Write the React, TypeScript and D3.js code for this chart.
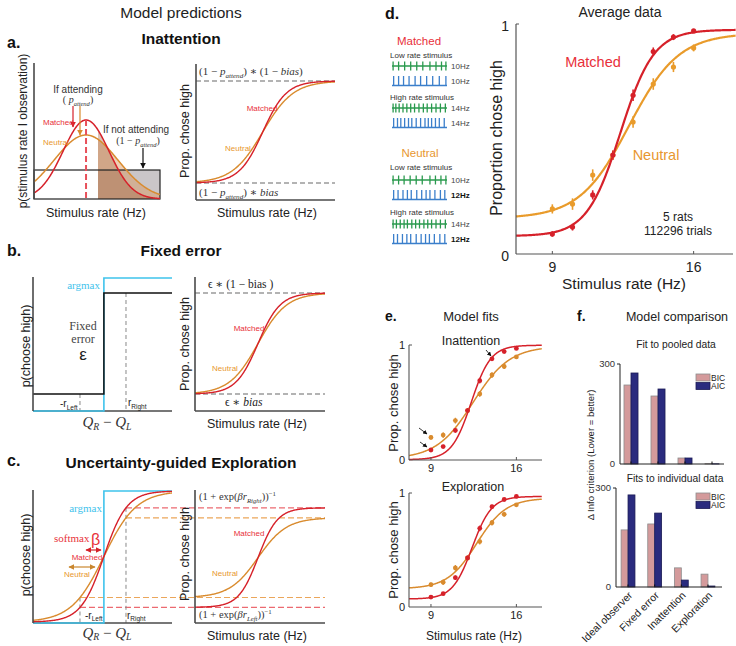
import React from 'react';
import * as d3 from 'd3';

// ---------------- data ----------------
const rates = [9, 10, 11, 12, 13, 14, 15, 16];
const matchedProp = [0.087, 0.117, 0.257, 0.43, 0.69, 0.88, 0.943, 0.97];
const neutralProp = [0.196, 0.217, 0.343, 0.43, 0.574, 0.739, 0.813, 0.896];
const matchedErr = [0.012, 0.015, 0.02, 0.02, 0.025, 0.018, 0.013, 0.008];
const neutralErr = [0.02, 0.025, 0.025, 0.02, 0.025, 0.025, 0.022, 0.015];

const models = ['Ideal observer', 'Fixed error', 'Inattention', 'Exploration'];
const pooledBIC = [237, 204, 18, 1];
const pooledAIC = [273, 225, 18, 0.5];
const indivBIC = [173, 191, 58, 39];
const indivAIC = [279, 224, 21, 3];

// fitted lapse-logistic parameters
const fitAvgMatched = { lo: 0.078, hi: 0.975, mu: 12.37, s: 0.83 };
const fitAvgNeutral = { lo: 0.155, hi: 0.96, mu: 12.8, s: 1.23 };
const fitInattMatched = { lo: 0.003, hi: 0.998, mu: 12.3, s: 0.8 };
const fitInattNeutral = { lo: 0.01, hi: 0.99, mu: 12.45, s: 1.5 };
const fitExplMatched = { lo: 0.07, hi: 0.97, mu: 12.37, s: 0.8 };
const fitExplNeutral = { lo: 0.16, hi: 0.955, mu: 12.75, s: 1.2 };

// schematic model shapes
const schemMatched = { lo: 0, hi: 1, mu: 0.48, s: 0.085 };
const schemNeutral = { lo: 0, hi: 1, mu: 0.48, s: 0.11 };
const gaussMatched = { mu: 0.413, sd: 0.182, h: 1 };
const gaussNeutral = { mu: 0.413, sd: 0.254, h: 0.81 };
const attendThreshold = 0.508;
const uniformLevel = 0.367;
const rLeft = 0.338;
const rRight = 0.669;

// pulse trains (normalized event times)
const greenLow1 = [0.02, 0.12, 0.23, 0.34, 0.45, 0.56, 0.69, 0.8, 0.9, 0.98];
const blueLow1 = [0.03, 0.12, 0.21, 0.31, 0.42, 0.52, 0.63, 0.74, 0.86, 0.98];
const greenHigh1 = [0.02, 0.07, 0.13, 0.2, 0.27, 0.34, 0.41, 0.49, 0.57, 0.64, 0.72, 0.8, 0.88, 0.97];
const blueHigh1 = [0.03, 0.1, 0.16, 0.23, 0.3, 0.36, 0.44, 0.52, 0.6, 0.66, 0.72, 0.79, 0.86, 0.95];
const greenLow2 = [0.02, 0.12, 0.22, 0.33, 0.44, 0.55, 0.69, 0.79, 0.89, 0.98];
const blue12a = [0.03, 0.11, 0.2, 0.28, 0.35, 0.45, 0.54, 0.62, 0.69, 0.78, 0.88, 0.96];
const greenHigh2 = [0.02, 0.08, 0.15, 0.22, 0.28, 0.36, 0.43, 0.5, 0.58, 0.65, 0.72, 0.8, 0.88, 0.97];
const blue12b = [0.03, 0.1, 0.19, 0.27, 0.34, 0.44, 0.53, 0.61, 0.68, 0.77, 0.87, 0.96];

// ---------------- styles ----------------
const RED = '#d6212a';
const RED_T = '#e8303a';
const ORANGE = '#e99b2b';
const ORANGE_M = '#d98b2e';
const ORANGE_T = '#e8972f';
const CYAN = '#3fc3ec';
const AX = '#4a4a4a';
const SANS = '"Liberation Sans", Arial, Helvetica, sans-serif';
const SERIF = '"Liberation Serif", "DejaVu Serif", serif';
const GREEN = '#2a9a4e';
const BLUE = '#3b7fcb';

const logistic = (p: any) => (x: number) => p.lo + (p.hi - p.lo) / (1 + Math.exp(-(x - p.mu) / p.s));
const gauss = (g: any) => (x: number) => g.h * Math.exp(-((x - g.mu) ** 2) / (2 * g.sd * g.sd));
const path = (xs: number[], f: (x: number) => number, sx: any, sy: any) =>
  d3.line()(xs.map((x) => [sx(x), sy(f(x))]) as any) as string;

const unit = d3.range(0, 1.0001, 0.004);
const hz = d3.range(7.2, 18.11, 0.04);

function Rot({ x, y, children, size = 12, fill = '#222', family = SANS }: any) {
  return (
    <text transform={`translate(${x},${y}) rotate(-90)`} textAnchor="middle" fontSize={size} fill={fill} fontFamily={family}>
      {children}
    </text>
  );
}

// math-ish text: runs of [text, flags] where flags contains i (italic), s (sub), p (sup)
function MT({ x, y, size, runs, anchor = 'start', fill = '#333', family = SERIF, subOff = 0.25 }: any) {
  let cur = 0;
  return (
    <text x={x} y={y} fontSize={size} textAnchor={anchor} fill={fill} fontFamily={family}>
      {runs.map((r: any, i: number) => {
        const [t, f = ''] = r;
        const off = f.includes('s') ? size * subOff : f.includes('p') ? -size * 0.4 : 0;
        const dy = off - cur;
        cur = off;
        const small = f.includes('s') || f.includes('p');
        return (
          <tspan key={i} dy={dy} fontSize={small ? size * 0.65 : size} fontStyle={f.includes('i') ? 'italic' : 'normal'}>
            {t}
          </tspan>
        );
      })}
    </text>
  );
}

function PulseRow({ x, y, w, times, kind, label, bold }: any) {
  const sx = d3.scaleLinear().domain([0, 1]).range([x, x + w]);
  return (
    <g>
      {kind === 'green' ? (
        <g stroke={GREEN} strokeWidth={1.3}>
          <line x1={x} x2={x + w} y1={y} y2={y} />
          {times.map((t: number, i: number) => (
            <line key={i} x1={sx(t)} x2={sx(t)} y1={y - 4.5} y2={y + 4.5} />
          ))}
        </g>
      ) : (
        <g stroke={BLUE} strokeWidth={1.3}>
          <line x1={x} x2={x + w} y1={y + 4.5} y2={y + 4.5} />
          {times.map((t: number, i: number) => (
            <line key={i} x1={sx(t)} x2={sx(t)} y1={y + 4.5} y2={y - 5} />
          ))}
        </g>
      )}
      <text x={x + w + 4} y={y + 3} fontSize={8} fontWeight={bold ? 'bold' : 'normal'} fill={bold ? '#111' : '#444'}>
        {label}
      </text>
    </g>
  );
}

export default function App() {
  // ---------- panel a ----------
  const xG = d3.scaleLinear().domain([0, 1]).range([34, 160]);
  const yG = d3.scaleLinear().domain([0, 1]).range([199, 120]);
  const gM = gauss(gaussMatched);
  const gN = gauss(gaussNeutral);
  const tail = unit.filter((u) => u >= attendThreshold);
  const areaFn = (f: any) =>
    d3.area().x((d: any) => xG(d)).y0(yG(0)).y1((d: any) => yG(f(d)))(tail as any) as string;

  const xSa = d3.scaleLinear().domain([0, 1]).range([196, 335]);
  const ySa = d3.scaleLinear().domain([0, 1]).range([183, 81]);
  const sM = logistic(schemMatched);
  const sN = logistic(schemNeutral);

  // ---------- panel b ----------
  const xB = d3.scaleLinear().domain([0, 1]).range([33, 172]);
  const xSb = d3.scaleLinear().domain([0, 1]).range([195, 325]);
  const ySb = d3.scaleLinear().domain([0, 1]).range([394, 293]);
  const sbM = logistic({ ...schemMatched, mu: 0.485 });
  const sbN = logistic({ ...schemNeutral, mu: 0.485 });

  // ---------- panel c ----------
  const xC = d3.scaleLinear().domain([0, 1]).range([33, 172]);
  const yC = d3.scaleLinear().domain([0, 1]).range([622, 491]);
  const cM = logistic({ lo: 0, hi: 1, mu: 0.51, s: 0.083 });
  const cN = logistic({ lo: 0, hi: 1, mu: 0.51, s: 0.117 });
  const xSc = d3.scaleLinear().domain([0, 1]).range([195, 325]);
  const crM = logistic({ lo: cM(rLeft), hi: cM(rRight), mu: 0.485, s: 0.075 });
  const crN = logistic({ lo: cN(rLeft), hi: cN(rRight), mu: 0.485, s: 0.11 });

  // ---------- panel d ----------
  const xD = d3.scaleLinear().domain([7.2, 17.95]).range([516, 733]);
  const yD = d3.scaleLinear().domain([0, 1]).range([254, 24]);

  // ---------- panel e ----------
  const xE = d3.scaleLinear().domain([7.2, 18.1]).range([409, 542]);
  const yE1 = d3.scaleLinear().domain([0, 1]).range([460, 345]);
  const yE2 = d3.scaleLinear().domain([0, 1]).range([607, 493]);

  // ---------- panel f ----------
  const xF1 = d3.scaleBand().domain(models).range([617.5, 725.5]);
  const yF1 = d3.scaleLinear().domain([0, 300]).range([464, 364]);
  const xF2 = d3.scaleBand().domain(models).range([614.7, 721.3]);
  const yF2 = d3.scaleLinear().domain([0, 300]).range([587, 488]);

  const dataPts = (sx: any, sy: any, vals: number[], errs: number[], color: string, r: number, ew: number) => (
    <g>
      {rates.map((x, i) => (
        <g key={i}>
          <line x1={sx(x)} x2={sx(x)} y1={sy(vals[i] - errs[i])} y2={sy(vals[i] + errs[i])} stroke={color} strokeWidth={ew} />
          <circle cx={sx(x)} cy={sy(vals[i])} r={r} fill={color} />
        </g>
      ))}
    </g>
  );

  const bars = (sx: any, sy: any, bic: number[], aic: number[], x0: number, x1: number, ytop: number, legY: number) => {
    const bw = sx.bandwidth() * 0.26;
    return (
      <g>
        {models.map((m, i) => {
          const c = (sx(m) as number) + sx.bandwidth() / 2;
          return (
            <g key={m}>
              <rect x={c - bw} y={sy(bic[i])} width={bw} height={sy(0) - sy(bic[i])} fill="#d49a9b" stroke="#8d8d8d" strokeWidth={0.8} />
              <rect x={c} y={sy(aic[i])} width={bw} height={sy(0) - sy(aic[i])} fill="#2a2b7e" stroke="#1b1b55" strokeWidth={0.8} />
              <line x1={c} x2={c} y1={sy(0)} y2={sy(0) - 2.5} stroke="#111" strokeWidth={1} />
            </g>
          );
        })}
        <line x1={x0} x2={x0} y1={ytop} y2={sy(0)} stroke="#222" strokeWidth={1} />
        <line x1={x0} x2={x1} y1={sy(0)} y2={sy(0)} stroke="#222" strokeWidth={1} />
        <line x1={x0 - 3} x2={x0} y1={sy(300)} y2={sy(300)} stroke="#222" />
        <text x={x0 - 5} y={sy(300) + 3} fontSize={9.5} textAnchor="end" fill="#333">300</text>
        <text x={x0 - 5} y={sy(0) + 3} fontSize={9.5} textAnchor="end" fill="#333">0</text>
        <rect x={696} y={legY} width={14} height={7} fill="#d49a9b" stroke="#8d8d8d" strokeWidth={0.8} />
        <text x={711} y={legY + 6.5} fontSize={8.5} fill="#222">BIC</text>
        <rect x={696} y={legY + 8.5} width={14} height={7} fill="#2a2b7e" stroke="#1b1b55" strokeWidth={0.8} />
        <text x={711} y={legY + 15} fontSize={8.5} fill="#222">AIC</text>
      </g>
    );
  };

  return (
    <div style={{ position: 'absolute', left: 0, top: 0 }}>
      <svg width={736} height={646} style={{ display: 'block' }} fontFamily={SANS}>
        <defs>
          {[['red', RED], ['org', ORANGE_M], ['blk', '#111'], ['rd2', RED], ['or2', '#c9862e']].map(([id, c]) => (
            <marker key={id} id={`ah-${id}`} viewBox="0 0 10 10" refX={9} refY={5} markerWidth={5} markerHeight={5} orient="auto-start-reverse">
              <path d="M0,0 L10,5 L0,10 z" fill={c} />
            </marker>
          ))}
        </defs>
        <rect x={0} y={0} width={736} height={646} fill="#fff" />

        {/* ================= Panel a ================= */}
        <text x={181} y={18} fontSize={15.5} textAnchor="middle" fill="#222">Model predictions</text>
        <text x={7} y={48} fontSize={16} fontWeight="bold" fill="#111">a.</text>
        <text x={181} y={44} fontSize={15.5} fontWeight="bold" textAnchor="middle" fill="#111">Inattention</text>

        {/* left: observation distributions */}
        <rect x={xG(attendThreshold)} y={yG(uniformLevel)} width={xG(1) - xG(attendThreshold)} height={yG(0) - yG(uniformLevel)} fill="#cac6c8" />
        <path d={areaFn(gN)} fill="#d9955a" fillOpacity={0.45} />
        <path d={areaFn(gM)} fill="#9a5a34" fillOpacity={0.35} />
        <rect x={xG(0)} y={yG(uniformLevel)} width={xG(1) - xG(0)} height={yG(0) - yG(uniformLevel)} fill="none" stroke="#222" strokeWidth={1.2} />
        <path d={path(unit, gN, xG, yG)} fill="none" stroke={ORANGE_M} strokeWidth={1.5} />
        <path d={path(unit, gM, xG, yG)} fill="none" stroke={RED} strokeWidth={1.5} />
        <line x1={xG(gaussMatched.mu)} x2={xG(gaussMatched.mu)} y1={yG(1)} y2={yG(0)} stroke="#e8505a" strokeWidth={2} strokeDasharray="6 3" />
        <line x1={34} x2={34} y1={63} y2={199} stroke={AX} strokeWidth={1.6} />
        <text x={78} y={93} fontSize={10} textAnchor="middle" fill="#333">If attending</text>
        <MT x={78} y={103} size={10} anchor="middle" runs={[['( '], ['p', 'i'], ['attend', 'is'], [')']]} />
        <line x1={73} x2={73} y1={106} y2={127} stroke={RED} strokeWidth={1.2} markerEnd="url(#ah-red)" />
        <line x1={80} x2={80} y1={106} y2={135} stroke={ORANGE_M} strokeWidth={1.2} markerEnd="url(#ah-org)" />
        <text x={43} y={125} fontSize={8} fill={RED_T}>Matched</text>
        <text x={43} y={145} fontSize={8} fill={ORANGE_T}>Neutral</text>
        <text x={136} y={133} fontSize={10} textAnchor="middle" fill="#333">If not attending</text>
        <MT x={138} y={144} size={10} anchor="middle" runs={[['(1 − '], ['p', 'i'], ['attend', 'is'], [')']]} />
        <line x1={143} x2={143} y1={148} y2={168} stroke="#111" strokeWidth={1.2} markerEnd="url(#ah-blk)" />
        <Rot x={27} y={131} size={12}>p(stimulus rate I observation)</Rot>
        <text x={96} y={217} fontSize={12.5} textAnchor="middle" fill="#222">Stimulus rate (Hz)</text>

        {/* right: psychometric */}
        <line x1={196} x2={335} y1={ySa(1)} y2={ySa(1)} stroke="#9a9a9a" strokeWidth={1.3} strokeDasharray="5 3" />
        <line x1={196} x2={335} y1={ySa(0)} y2={ySa(0)} stroke="#9a9a9a" strokeWidth={1.3} strokeDasharray="5 3" />
        <path d={path(unit, sN, xSa, ySa)} fill="none" stroke={ORANGE_M} strokeWidth={1.4} />
        <path d={path(unit, sM, xSa, ySa)} fill="none" stroke={RED} strokeWidth={1.4} />
        <line x1={196} x2={196} y1={64} y2={200} stroke={AX} strokeWidth={1.6} />
        <line x1={196} x2={335} y1={200} y2={200} stroke={AX} strokeWidth={1.6} />
        <MT x={199} y={75} size={11} runs={[['(1 − '], ['p', 'i'], ['attend', 'is'], [') ∗ (1 − '], ['bias', 'i'], [')']]} />
        <MT x={199} y={196} size={11} runs={[['(1 − '], ['p', 'i'], ['attend', 'is'], [') ∗ '], ['bias', 'i']]} />
        <text x={262} y={111} fontSize={8} textAnchor="middle" fill={RED_T}>Matched</text>
        <text x={238} y={151} fontSize={8} textAnchor="middle" fill={ORANGE_T}>Neutral</text>
        <Rot x={189} y={131} size={12.5}>Prop. chose high</Rot>
        <text x={267} y={217} fontSize={12.5} textAnchor="middle" fill="#222">Stimulus rate (Hz)</text>

        {/* ================= Panel b ================= */}
        <text x={7} y={256} fontSize={16} fontWeight="bold" fill="#111">b.</text>
        <text x={181} y={256} fontSize={15.5} fontWeight="bold" textAnchor="middle" fill="#111">Fixed error</text>
        <line x1={xB(rLeft)} x2={xB(rLeft)} y1={394} y2={411} stroke="#888" strokeWidth={1} strokeDasharray="4 3" />
        <line x1={xB(rRight)} x2={xB(rRight)} y1={293} y2={411} stroke="#888" strokeWidth={1} strokeDasharray="4 3" />
        <line x1={33} x2={172} y1={411} y2={411} stroke={AX} strokeWidth={1.6} />
        <path d={`M33,411 H${xB(0.51)} V278 H172`} fill="none" stroke={CYAN} strokeWidth={1.6} />
        <path d={`M33,394 H${xB(0.51)} V293 H172`} fill="none" stroke="#111" strokeWidth={1.5} />
        <line x1={33} x2={33} y1={277} y2={411} stroke={AX} strokeWidth={1.6} />
        <text x={100} y={289} fontSize={11} fontFamily={SERIF} textAnchor="end" fill={CYAN}>argmax</text>
        <text x={83} y={330} fontSize={12} fontFamily={SERIF} textAnchor="middle" fill="#444">Fixed</text>
        <text x={83} y={343} fontSize={12} fontFamily={SERIF} textAnchor="middle" fill="#444">error</text>
        <text x={83} y={360} fontSize={17} textAnchor="middle" fill="#222">ε</text>
        <MT x={60} y={407} size={10} family={SANS} fill="#222" runs={[['-r'], ['Left', 's']]} />
        <MT x={128} y={406} size={10} family={SANS} fill="#222" runs={[['r'], ['Right', 's']]} />
        <MT x={107} y={427} size={15} anchor="middle" subOff={0.18} runs={[['Q', 'i'], ['R', 'is'], [' − '], ['Q', 'i'], ['L', 'is']]} />
        <Rot x={30} y={346} size={12.5}>p(choose high)</Rot>

        <line x1={195} x2={325} y1={293} y2={293} stroke="#9a9a9a" strokeWidth={1.3} strokeDasharray="5 3" />
        <line x1={195} x2={325} y1={394} y2={394} stroke="#9a9a9a" strokeWidth={1.3} strokeDasharray="5 3" />
        <path d={path(unit, sbN, xSb, ySb)} fill="none" stroke={ORANGE_M} strokeWidth={1.4} />
        <path d={path(unit, sbM, xSb, ySb)} fill="none" stroke={RED} strokeWidth={1.4} />
        <line x1={195} x2={195} y1={277} y2={411} stroke={AX} strokeWidth={1.6} />
        <line x1={195} x2={325} y1={411} y2={411} stroke={AX} strokeWidth={1.6} />
        <text x={208} y={288} fontSize={11.5} fontFamily={SERIF} fill="#222">{'ϵ ∗ (1 −  bias )'}</text>
        <MT x={225} y={406} size={11.5} fill="#222" runs={[['ϵ ∗ '], ['bias', 'i']]} />
        <text x={249} y={331} fontSize={8} textAnchor="middle" fill={RED_T}>Matched</text>
        <text x={225} y={371} fontSize={8} textAnchor="middle" fill={ORANGE_T}>Neutral</text>
        <Rot x={189} y={344} size={12.5}>Prop. chose high</Rot>
        <text x={257} y={428} fontSize={12.5} textAnchor="middle" fill="#222">Stimulus rate (Hz)</text>

        {/* ================= Panel c ================= */}
        <text x={7} y={466} fontSize={16} fontWeight="bold" fill="#111">c.</text>
        <text x={181} y={468} fontSize={15.5} fontWeight="bold" textAnchor="middle" fill="#111">Uncertainty-guided Exploration</text>
        <line x1={xC(rRight)} x2={325} y1={yC(cM(rRight))} y2={yC(cM(rRight))} stroke="#ec6a70" strokeWidth={1.2} strokeDasharray="6 3" />
        <line x1={xC(rRight)} x2={325} y1={yC(cN(rRight))} y2={yC(cN(rRight))} stroke="#eba65a" strokeWidth={1.2} strokeDasharray="6 3" />
        <line x1={xC(rLeft)} x2={325} y1={yC(cN(rLeft))} y2={yC(cN(rLeft))} stroke="#eba65a" strokeWidth={1.2} strokeDasharray="6 3" />
        <line x1={xC(rLeft)} x2={325} y1={yC(cM(rLeft))} y2={yC(cM(rLeft))} stroke="#ec6a70" strokeWidth={1.2} strokeDasharray="6 3" />
        <line x1={xC(rLeft)} x2={xC(rLeft)} y1={yC(cN(rLeft))} y2={623} stroke="#888" strokeWidth={1} strokeDasharray="4 3" />
        <line x1={xC(rRight)} x2={xC(rRight)} y1={yC(cM(rRight))} y2={623} stroke="#888" strokeWidth={1} strokeDasharray="4 3" />
        <line x1={33} x2={172} y1={623} y2={623} stroke={AX} strokeWidth={1.6} />
        <path d={`M33,623 H${xC(0.51)} V491 H172`} fill="none" stroke={CYAN} strokeWidth={1.6} />
        <path d={path(unit, cN, xC, yC)} fill="none" stroke={ORANGE_M} strokeWidth={1.4} />
        <path d={path(unit, cM, xC, yC)} fill="none" stroke={RED} strokeWidth={1.4} />
        <line x1={33} x2={33} y1={490} y2={623} stroke={AX} strokeWidth={1.6} />
        <text x={102} y={512} fontSize={11} fontFamily={SERIF} textAnchor="end" fill={CYAN}>argmax</text>
        <text x={54} y={542} fontSize={11} fontFamily={SERIF} fill="#e8323a">softmax</text>
        <text x={91} y={545} fontSize={16} fill="#e8323a">β</text>
        <line x1={86} x2={101} y1={550} y2={550} stroke="#c9202a" strokeWidth={1.2} markerStart="url(#ah-rd2)" markerEnd="url(#ah-rd2)" />
        <text x={87} y={560} fontSize={8} textAnchor="middle" fill={RED_T}>Matched</text>
        <line x1={69} x2={95} y1={567} y2={567} stroke="#c9862e" strokeWidth={1.2} markerStart="url(#ah-or2)" markerEnd="url(#ah-or2)" />
        <text x={77} y={577} fontSize={8} textAnchor="middle" fill={ORANGE_T}>Neutral</text>
        <MT x={85} y={619} size={10} family={SANS} fill="#222" subOff={0.2} runs={[['-r'], ['Left', 's']]} />
        <MT x={127} y={619} size={10} family={SANS} fill="#222" subOff={0.2} runs={[['r'], ['Right', 's']]} />
        <MT x={107} y={638} size={15} anchor="middle" subOff={0.15} runs={[['Q', 'i'], ['R', 'is'], [' − '], ['Q', 'i'], ['L', 'is']]} />
        <Rot x={30} y={555} size={12.5}>p(choose high)</Rot>

        <path d={path(unit, crN, xSc, yC)} fill="none" stroke={ORANGE_M} strokeWidth={1.4} />
        <path d={path(unit, crM, xSc, yC)} fill="none" stroke={RED} strokeWidth={1.4} />
        <line x1={195} x2={195} y1={490} y2={623} stroke={AX} strokeWidth={1.6} />
        <line x1={195} x2={325} y1={623} y2={623} stroke={AX} strokeWidth={1.6} />
        <MT x={199} y={500} size={10.5} runs={[['(1 + exp('], ['βr', 'i'], ['Right', 'is'], ['))'], ['−1', 'p']]} />
        <MT x={199} y={618} size={10.5} runs={[['(1 + exp('], ['βr', 'i'], ['Left', 'is'], ['))'], ['−1', 'p']]} />
        <text x={249} y={536} fontSize={8} textAnchor="middle" fill={RED_T}>Matched</text>
        <text x={225} y={576} fontSize={8} textAnchor="middle" fill={ORANGE_T}>Neutral</text>
        <Rot x={189} y={554} size={12.5}>Prop. chose high</Rot>
        <text x={257} y={640} fontSize={12.5} textAnchor="middle" fill="#222">Stimulus rate (Hz)</text>

        {/* ================= Panel d ================= */}
        <text x={385} y={19} fontSize={16} fontWeight="bold" fill="#111">d.</text>
        <text x={620} y={17} fontSize={14} textAnchor="middle" fill="#222">Average data</text>

        <text x={419} y={45} fontSize={11.5} textAnchor="middle" fill={RED_T}>Matched</text>
        <text x={390} y={58} fontSize={8} fill="#333">Low rate stimulus</text>
        <PulseRow x={392} y={66} w={55} times={greenLow1} kind="green" label="10Hz" />
        <PulseRow x={392} y={81} w={55} times={blueLow1} kind="blue" label="10Hz" />
        <text x={390} y={100} fontSize={8} fill="#333">High rate stimulus</text>
        <PulseRow x={392} y={108} w={55} times={greenHigh1} kind="green" label="14Hz" />
        <PulseRow x={392} y={123} w={55} times={blueHigh1} kind="blue" label="14Hz" />
        <text x={420} y={157} fontSize={11.5} textAnchor="middle" fill={ORANGE_T}>Neutral</text>
        <text x={390} y={170} fontSize={8} fill="#333">Low rate stimulus</text>
        <PulseRow x={392} y={180} w={55} times={greenLow2} kind="green" label="10Hz" />
        <PulseRow x={392} y={195} w={55} times={blue12a} kind="blue" label="12Hz" bold />
        <text x={390} y={215} fontSize={8} fill="#333">High rate stimulus</text>
        <PulseRow x={392} y={224} w={55} times={greenHigh2} kind="green" label="14Hz" />
        <PulseRow x={392} y={239} w={55} times={blue12b} kind="blue" label="12Hz" bold />

        <path d={path(hz, logistic(fitAvgNeutral), xD, yD)} fill="none" stroke={ORANGE} strokeWidth={2.2} />
        <path d={path(hz, logistic(fitAvgMatched), xD, yD)} fill="none" stroke={RED} strokeWidth={2.2} />
        {dataPts(xD, yD, neutralProp, neutralErr, ORANGE, 2.6, 1.6)}
        {dataPts(xD, yD, matchedProp, matchedErr, RED, 2.6, 1.6)}
        <line x1={516} x2={516} y1={24} y2={254} stroke="#555" strokeWidth={1.2} />
        <line x1={516} x2={733} y1={254} y2={254} stroke="#555" strokeWidth={1.2} />
        <line x1={516} x2={519} y1={yD(1)} y2={yD(1)} stroke="#555" />
        {[9, 16].map((t) => (
          <g key={t}>
            <line x1={xD(t)} x2={xD(t)} y1={254} y2={251} stroke="#555" />
            <text x={xD(t)} y={272} fontSize={14} textAnchor="middle" fill="#222">{t}</text>
          </g>
        ))}
        <text x={509} y={31} fontSize={14} textAnchor="end" fill="#222">1</text>
        <text x={509} y={261} fontSize={14} textAnchor="end" fill="#222">0</text>
        <text x={593} y={67} fontSize={14.5} textAnchor="middle" fill={RED_T}>Matched</text>
        <text x={656} y={160} fontSize={14.5} textAnchor="middle" fill={ORANGE_T}>Neutral</text>
        <text x={678} y={221} fontSize={12} textAnchor="middle" fill="#222">5 rats</text>
        <text x={678} y={235} fontSize={12} textAnchor="middle" fill="#222">112296 trials</text>
        <Rot x={502} y={138} size={16}>Proportion chose high</Rot>
        <text x={624} y={289} fontSize={15.5} textAnchor="middle" fill="#222">Stimulus rate (Hz)</text>

        {/* ================= Panel e ================= */}
        <text x={385} y={321} fontSize={14} fontWeight="bold" fill="#111">e.</text>
        <text x={471} y={321} fontSize={13} textAnchor="middle" fill="#222">Model fits</text>
        <text x={471} y={345} fontSize={12.5} textAnchor="middle" fill="#222">Inattention</text>
        <path d={path(hz, logistic(fitInattNeutral), xE, yE1)} fill="none" stroke={ORANGE_M} strokeWidth={1.5} />
        <path d={path(hz, logistic(fitInattMatched), xE, yE1)} fill="none" stroke={RED} strokeWidth={1.5} />
        {dataPts(xE, yE1, neutralProp, neutralErr, ORANGE_M, 2.4, 1.2)}
        {dataPts(xE, yE1, matchedProp, matchedErr, RED, 2.4, 1.2)}
        <line x1={419} x2={427} y1={428} y2={434} stroke="#222" strokeWidth={0.9} markerEnd="url(#ah-blk)" />
        <line x1={420} x2={427} y1={442} y2={447} stroke="#222" strokeWidth={0.9} markerEnd="url(#ah-blk)" />
        <line x1={486} x2={491} y1={350} y2={356} stroke="#222" strokeWidth={0.9} markerEnd="url(#ah-blk)" />

        <text x={473} y={491} fontSize={12.5} textAnchor="middle" fill="#222">Exploration</text>
        <path d={path(hz, logistic(fitExplNeutral), xE, yE2)} fill="none" stroke={ORANGE_M} strokeWidth={1.5} />
        <path d={path(hz, logistic(fitExplMatched), xE, yE2)} fill="none" stroke={RED} strokeWidth={1.5} />
        {dataPts(xE, yE2, neutralProp, neutralErr, ORANGE_M, 2.4, 1.2)}
        {dataPts(xE, yE2, matchedProp, matchedErr, RED, 2.4, 1.2)}

        {[yE1, yE2].map((sy, k) => (
          <g key={k}>
            <line x1={409} x2={409} y1={sy(1)} y2={sy(0)} stroke="#555" strokeWidth={1.1} />
            <line x1={409} x2={542} y1={sy(0)} y2={sy(0)} stroke="#555" strokeWidth={1.1} />
            <line x1={409} x2={412} y1={sy(1)} y2={sy(1)} stroke="#555" />
            <text x={405} y={sy(1) + 4} fontSize={11} textAnchor="end" fill="#222">1</text>
            <text x={405} y={sy(0) + 4} fontSize={11} textAnchor="end" fill="#222">0</text>
            {[9, 16].map((t) => (
              <g key={t}>
                <line x1={xE(t)} x2={xE(t)} y1={sy(0)} y2={sy(0) - 3} stroke="#555" />
                <text x={xE(t)} y={sy(0) + 12} fontSize={11} textAnchor="middle" fill="#222">{t}</text>
              </g>
            ))}
          </g>
        ))}
        <Rot x={398} y={403} size={13}>Prop. chose high</Rot>
        <Rot x={398} y={550} size={13}>Prop. chose high</Rot>
        <text x={474} y={640} fontSize={12} textAnchor="middle" fill="#222">Stimulus rate (Hz)</text>

        {/* ================= Panel f ================= */}
        <text x={577} y={321} fontSize={14} fontWeight="bold" fill="#111">f.</text>
        <text x={677} y={321} fontSize={12.5} textAnchor="middle" fill="#222">Model comparison</text>
        <text x={676} y={348} fontSize={10.3} textAnchor="middle" fill="#222">Fit to pooled data</text>
        {bars(xF1, yF1, pooledBIC, pooledAIC, 620, 724, 364, 374)}
        <text x={675} y={482} fontSize={10.3} textAnchor="middle" fill="#222">Fits to individual data</text>
        {bars(xF2, yF2, indivBIC, indivAIC, 616, 722, 488, 493)}
        <Rot x={594} y={455} size={9.5}>Δ Info criterion (Lower = better)</Rot>
        {models.map((m) => {
          const c = (xF2(m) as number) + xF2.bandwidth() / 2 + 5;
          return (
            <text key={m} transform={`translate(${c},596) rotate(-45)`} textAnchor="end" fontSize={10.5} fill="#222">
              {m}
            </text>
          );
        })}
      </svg>
    </div>
  );
}
